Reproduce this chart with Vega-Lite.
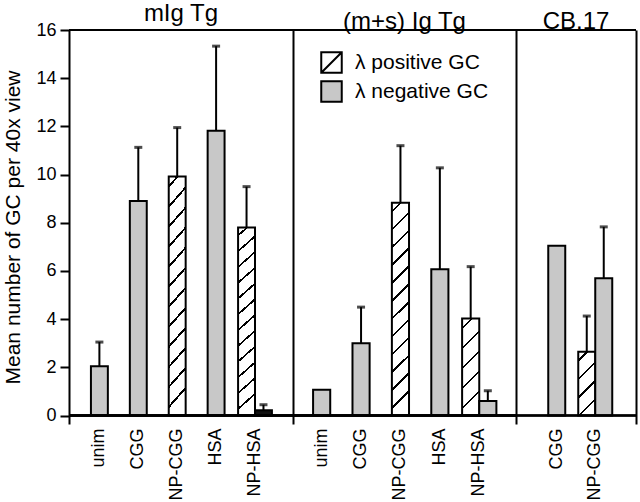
{
  "$schema": "https://vega.github.io/schema/vega-lite/v6.json",
  "padding": {"left": 2, "top": 2, "right": 3, "bottom": 0},
  "background": "white",
  "data": {"values": [
    {"group": "mIg Tg", "cat": "unim", "type": "λ negative GC", "value": 2.05, "upper": 3.05},
    {"group": "mIg Tg", "cat": "CGG", "type": "λ negative GC", "value": 8.9, "upper": 11.13},
    {"group": "mIg Tg", "cat": "NP-CGG", "type": "λ positive GC", "value": 9.92, "upper": 11.95},
    {"group": "mIg Tg", "cat": "HSA", "type": "λ negative GC", "value": 11.82, "upper": 15.33},
    {"group": "mIg Tg", "cat": "NP-HSA", "type": "λ positive GC", "value": 7.8, "upper": 9.5},
    {"group": "mIg Tg", "cat": "NP-HSA", "type": "λ negative GC", "value": 0.22, "upper": 0.45},
    {"group": "(m+s) Ig Tg", "cat": "unim", "type": "λ negative GC", "value": 1.07, "upper": null},
    {"group": "(m+s) Ig Tg", "cat": "CGG", "type": "λ negative GC", "value": 3.0, "upper": 4.5},
    {"group": "(m+s) Ig Tg", "cat": "NP-CGG", "type": "λ positive GC", "value": 8.83, "upper": 11.2},
    {"group": "(m+s) Ig Tg", "cat": "HSA", "type": "λ negative GC", "value": 6.07, "upper": 10.28},
    {"group": "(m+s) Ig Tg", "cat": "NP-HSA", "type": "λ positive GC", "value": 4.03, "upper": 6.18},
    {"group": "(m+s) Ig Tg", "cat": "NP-HSA", "type": "λ negative GC", "value": 0.6, "upper": 1.03},
    {"group": "CB.17", "cat": "CGG", "type": "λ negative GC", "value": 7.05, "upper": null},
    {"group": "CB.17", "cat": "NP-CGG", "type": "λ positive GC", "value": 2.65, "upper": 4.13},
    {"group": "CB.17", "cat": "NP-CGG", "type": "λ negative GC", "value": 5.7, "upper": 7.83}
  ]},
  "spacing": 0,
  "bounds": "flush",
  "resolve": {"scale": {"x": "independent", "xOffset": "independent", "fill": "independent"}},
  "hconcat": [
    {
      "width": 224, "height": 394,
      "title": "mIg Tg",
      "transform": [{"filter": "datum.group === 'mIg Tg'"}, {"joinaggregate": [{"op": "count", "as": "n"}], "groupby": ["cat"]}],
      "layer": [
        {"mark": {"type": "rule", "strokeWidth": 2, "color": "black"},
         "encoding": {"y": {"datum": 16, "type": "quantitative", "scale": {"domain": [-0.35, 16], "nice": false, "zero": false}, "axis": {"values": [0,2,4,6,8,10,12,14,16], "title": "Mean number of GC per 40x view", "titleFontSize": 21, "titleFontWeight": "normal", "titlePadding": 12, "labelFontSize": 18, "labelPadding": 4, "tickSize": 9, "tickWidth": 2, "domainWidth": 2}}}},
        {"transform": [{"filter": "datum.n == 1"}],
         "mark": {"type": "bar", "width": {"band": 0.5}, "stroke": "black", "strokeWidth": 2},
         "encoding": {
           "x": {"field": "cat", "type": "nominal", "sort": ["unim","CGG","NP-CGG","HSA","NP-HSA"], "scale": {"paddingInner": 0.13, "paddingOuter": 0.444, "align": 0.39}, "axis": {"title": null, "labelAngle": -90, "labelAlign": "right", "labelBaseline": "middle", "labelFontSize": 18, "labelPadding": 4, "ticks": false, "domain": false}},
           "y": {"field": "value", "type": "quantitative", "scale": {"domain": [-0.35, 16], "nice": false, "zero": false}, "axis": {"values": [0,2,4,6,8,10,12,14,16], "title": "Mean number of GC per 40x view", "titleFontSize": 21, "titleFontWeight": "normal", "titlePadding": 12, "labelFontSize": 18, "labelPadding": 4, "tickSize": 9, "tickWidth": 2, "domainWidth": 2}},
           "fill": {"condition": {"test": "datum.type === 'λ positive GC'", "value": {"gradient": "linear", "x1": 0, "y1": 0, "x2": 0.08, "y2": 1, "stops": [
               {"offset": 0, "color": "white"},
               {"offset": 0.0357, "color": "white"}, {"offset": 0.0357, "color": "black"}, {"offset": 0.0477, "color": "black"}, {"offset": 0.0477, "color": "white"},
               {"offset": 0.119, "color": "white"}, {"offset": 0.119, "color": "black"}, {"offset": 0.131, "color": "black"}, {"offset": 0.131, "color": "white"},
               {"offset": 0.2023, "color": "white"}, {"offset": 0.2023, "color": "black"}, {"offset": 0.2143, "color": "black"}, {"offset": 0.2143, "color": "white"},
               {"offset": 0.2857, "color": "white"}, {"offset": 0.2857, "color": "black"}, {"offset": 0.2977, "color": "black"}, {"offset": 0.2977, "color": "white"},
               {"offset": 0.369, "color": "white"}, {"offset": 0.369, "color": "black"}, {"offset": 0.381, "color": "black"}, {"offset": 0.381, "color": "white"},
               {"offset": 0.4523, "color": "white"}, {"offset": 0.4523, "color": "black"}, {"offset": 0.4643, "color": "black"}, {"offset": 0.4643, "color": "white"},
               {"offset": 0.5357, "color": "white"}, {"offset": 0.5357, "color": "black"}, {"offset": 0.5477, "color": "black"}, {"offset": 0.5477, "color": "white"},
               {"offset": 0.619, "color": "white"}, {"offset": 0.619, "color": "black"}, {"offset": 0.631, "color": "black"}, {"offset": 0.631, "color": "white"},
               {"offset": 0.7023, "color": "white"}, {"offset": 0.7023, "color": "black"}, {"offset": 0.7143, "color": "black"}, {"offset": 0.7143, "color": "white"},
               {"offset": 0.7857, "color": "white"}, {"offset": 0.7857, "color": "black"}, {"offset": 0.7977, "color": "black"}, {"offset": 0.7977, "color": "white"},
               {"offset": 0.869, "color": "white"}, {"offset": 0.869, "color": "black"}, {"offset": 0.881, "color": "black"}, {"offset": 0.881, "color": "white"},
               {"offset": 0.9523, "color": "white"}, {"offset": 0.9523, "color": "black"}, {"offset": 0.9643, "color": "black"}, {"offset": 0.9643, "color": "white"},
               {"offset": 1, "color": "white"}]}},
             "field": "type", "type": "nominal", "legend": null, "scale": {"domain": ["λ positive GC", "λ negative GC"], "range": ["white", "#c8c8c8"]}}
         }},
        {"transform": [{"filter": "datum.n == 2"}],
         "mark": {"type": "bar", "stroke": "black", "strokeWidth": 2},
         "encoding": {
           "x": {"field": "cat", "type": "nominal", "sort": ["unim","CGG","NP-CGG","HSA","NP-HSA"], "scale": {"paddingInner": 0.13, "paddingOuter": 0.444, "align": 0.39}, "axis": {"title": null, "labelAngle": -90, "labelAlign": "right", "labelBaseline": "middle", "labelFontSize": 18, "labelPadding": 4, "ticks": false, "domain": false}},
           "xOffset": {"field": "type", "type": "nominal", "scale": {"domain": ["λ positive GC", "λ negative GC"], "paddingInner": 0, "paddingOuter": 0}},
           "y": {"field": "value", "type": "quantitative", "scale": {"domain": [-0.35, 16], "nice": false, "zero": false}, "axis": {"values": [0,2,4,6,8,10,12,14,16], "title": "Mean number of GC per 40x view", "titleFontSize": 21, "titleFontWeight": "normal", "titlePadding": 12, "labelFontSize": 18, "labelPadding": 4, "tickSize": 9, "tickWidth": 2, "domainWidth": 2}},
           "fill": {"condition": [
             {"test": "datum.cat === 'NP-HSA' && datum.type === 'λ negative GC'", "value": "#111111"},
             {"test": "datum.type === 'λ positive GC' && datum.value > 6", "value": {"gradient": "linear", "x1": 0, "y1": 0, "x2": 0.08, "y2": 1, "stops": [
               {"offset": 0, "color": "white"},
               {"offset": 0.0357, "color": "white"}, {"offset": 0.0357, "color": "black"}, {"offset": 0.0477, "color": "black"}, {"offset": 0.0477, "color": "white"},
               {"offset": 0.119, "color": "white"}, {"offset": 0.119, "color": "black"}, {"offset": 0.131, "color": "black"}, {"offset": 0.131, "color": "white"},
               {"offset": 0.2023, "color": "white"}, {"offset": 0.2023, "color": "black"}, {"offset": 0.2143, "color": "black"}, {"offset": 0.2143, "color": "white"},
               {"offset": 0.2857, "color": "white"}, {"offset": 0.2857, "color": "black"}, {"offset": 0.2977, "color": "black"}, {"offset": 0.2977, "color": "white"},
               {"offset": 0.369, "color": "white"}, {"offset": 0.369, "color": "black"}, {"offset": 0.381, "color": "black"}, {"offset": 0.381, "color": "white"},
               {"offset": 0.4523, "color": "white"}, {"offset": 0.4523, "color": "black"}, {"offset": 0.4643, "color": "black"}, {"offset": 0.4643, "color": "white"},
               {"offset": 0.5357, "color": "white"}, {"offset": 0.5357, "color": "black"}, {"offset": 0.5477, "color": "black"}, {"offset": 0.5477, "color": "white"},
               {"offset": 0.619, "color": "white"}, {"offset": 0.619, "color": "black"}, {"offset": 0.631, "color": "black"}, {"offset": 0.631, "color": "white"},
               {"offset": 0.7023, "color": "white"}, {"offset": 0.7023, "color": "black"}, {"offset": 0.7143, "color": "black"}, {"offset": 0.7143, "color": "white"},
               {"offset": 0.7857, "color": "white"}, {"offset": 0.7857, "color": "black"}, {"offset": 0.7977, "color": "black"}, {"offset": 0.7977, "color": "white"},
               {"offset": 0.869, "color": "white"}, {"offset": 0.869, "color": "black"}, {"offset": 0.881, "color": "black"}, {"offset": 0.881, "color": "white"},
               {"offset": 0.9523, "color": "white"}, {"offset": 0.9523, "color": "black"}, {"offset": 0.9643, "color": "black"}, {"offset": 0.9643, "color": "white"},
               {"offset": 1, "color": "white"}]}}],
             "field": "type", "type": "nominal", "legend": null}
         }},
        {"transform": [{"filter": "datum.n == 1 && datum.upper != null"}],
         "mark": {"type": "rule", "strokeWidth": 2, "color": "black"},
         "encoding": {
           "x": {"field": "cat", "type": "nominal", "sort": ["unim","CGG","NP-CGG","HSA","NP-HSA"], "scale": {"paddingInner": 0.13, "paddingOuter": 0.444, "align": 0.39}, "axis": {"title": null, "labelAngle": -90, "labelAlign": "right", "labelBaseline": "middle", "labelFontSize": 18, "labelPadding": 4, "ticks": false, "domain": false}},
           "y": {"field": "value", "type": "quantitative", "scale": {"domain": [-0.35, 16], "nice": false, "zero": false}, "axis": {"values": [0,2,4,6,8,10,12,14,16], "title": "Mean number of GC per 40x view", "titleFontSize": 21, "titleFontWeight": "normal", "titlePadding": 12, "labelFontSize": 18, "labelPadding": 4, "tickSize": 9, "tickWidth": 2, "domainWidth": 2}},
           "y2": {"field": "upper"}
         }},
        {"transform": [{"filter": "datum.n == 1 && datum.upper != null"}],
         "mark": {"type": "tick", "size": 8, "thickness": 3, "color": "black"},
         "encoding": {
           "x": {"field": "cat", "type": "nominal", "sort": ["unim","CGG","NP-CGG","HSA","NP-HSA"], "scale": {"paddingInner": 0.13, "paddingOuter": 0.444, "align": 0.39}, "axis": {"title": null, "labelAngle": -90, "labelAlign": "right", "labelBaseline": "middle", "labelFontSize": 18, "labelPadding": 4, "ticks": false, "domain": false}},
           "y": {"field": "upper", "type": "quantitative", "scale": {"domain": [-0.35, 16], "nice": false, "zero": false}, "axis": {"values": [0,2,4,6,8,10,12,14,16], "title": "Mean number of GC per 40x view", "titleFontSize": 21, "titleFontWeight": "normal", "titlePadding": 12, "labelFontSize": 18, "labelPadding": 4, "tickSize": 9, "tickWidth": 2, "domainWidth": 2}}
         }},
        {"transform": [{"filter": "datum.n == 2 && datum.upper != null"}],
         "mark": {"type": "rule", "strokeWidth": 2, "color": "black"},
         "encoding": {
           "x": {"field": "cat", "type": "nominal", "sort": ["unim","CGG","NP-CGG","HSA","NP-HSA"], "scale": {"paddingInner": 0.13, "paddingOuter": 0.444, "align": 0.39}, "axis": {"title": null, "labelAngle": -90, "labelAlign": "right", "labelBaseline": "middle", "labelFontSize": 18, "labelPadding": 4, "ticks": false, "domain": false}},
           "xOffset": {"field": "type", "type": "nominal", "scale": {"domain": ["λ positive GC", "λ negative GC"], "paddingInner": 0, "paddingOuter": 0}},
           "y": {"field": "value", "type": "quantitative", "scale": {"domain": [-0.35, 16], "nice": false, "zero": false}, "axis": {"values": [0,2,4,6,8,10,12,14,16], "title": "Mean number of GC per 40x view", "titleFontSize": 21, "titleFontWeight": "normal", "titlePadding": 12, "labelFontSize": 18, "labelPadding": 4, "tickSize": 9, "tickWidth": 2, "domainWidth": 2}},
           "y2": {"field": "upper"}
         }},
        {"transform": [{"filter": "datum.n == 2 && datum.upper != null"}],
         "mark": {"type": "tick", "size": 8, "thickness": 3, "color": "black"},
         "encoding": {
           "x": {"field": "cat", "type": "nominal", "sort": ["unim","CGG","NP-CGG","HSA","NP-HSA"], "scale": {"paddingInner": 0.13, "paddingOuter": 0.444, "align": 0.39}, "axis": {"title": null, "labelAngle": -90, "labelAlign": "right", "labelBaseline": "middle", "labelFontSize": 18, "labelPadding": 4, "ticks": false, "domain": false}},
           "xOffset": {"field": "type", "type": "nominal", "scale": {"domain": ["λ positive GC", "λ negative GC"], "paddingInner": 0, "paddingOuter": 0}},
           "y": {"field": "upper", "type": "quantitative", "scale": {"domain": [-0.35, 16], "nice": false, "zero": false}, "axis": {"values": [0,2,4,6,8,10,12,14,16], "title": "Mean number of GC per 40x view", "titleFontSize": 21, "titleFontWeight": "normal", "titlePadding": 12, "labelFontSize": 18, "labelPadding": 4, "tickSize": 9, "tickWidth": 2, "domainWidth": 2}}
         }},
        {"mark": {"type": "rule", "strokeWidth": 2, "color": "black"},
         "encoding": {"y": {"datum": 0, "type": "quantitative", "scale": {"domain": [-0.35, 16], "nice": false, "zero": false}, "axis": {"values": [0,2,4,6,8,10,12,14,16], "title": "Mean number of GC per 40x view", "titleFontSize": 21, "titleFontWeight": "normal", "titlePadding": 12, "labelFontSize": 18, "labelPadding": 4, "tickSize": 9, "tickWidth": 2, "domainWidth": 2}}}}
      ]
    },
    {
      "width": 223, "height": 394,
      "title": "(m+s) Ig Tg",
      "transform": [{"filter": "datum.group === '(m+s) Ig Tg'"}, {"joinaggregate": [{"op": "count", "as": "n"}], "groupby": ["cat"]}],
      "layer": [
        {"mark": {"type": "rule", "strokeWidth": 2, "color": "black"},
         "encoding": {"y": {"datum": 16, "type": "quantitative", "scale": {"domain": [-0.35, 16], "nice": false, "zero": false}, "axis": {"labels": false, "ticks": false, "title": null, "domainWidth": 2}}}},
        {"transform": [{"filter": "datum.n == 1"}],
         "mark": {"type": "bar", "width": {"band": 0.5}, "stroke": "black", "strokeWidth": 2},
         "encoding": {
           "x": {"field": "cat", "type": "nominal", "sort": ["unim","CGG","NP-CGG","HSA","NP-HSA"], "scale": {"paddingInner": 0.13, "paddingOuter": 0.395, "align": 0.37}, "axis": {"title": null, "labelAngle": -90, "labelAlign": "right", "labelBaseline": "middle", "labelFontSize": 18, "labelPadding": 4, "ticks": false, "domain": false}},
           "y": {"field": "value", "type": "quantitative", "scale": {"domain": [-0.35, 16], "nice": false, "zero": false}, "axis": {"labels": false, "ticks": false, "title": null, "domainWidth": 2}},
           "fill": {"condition": {"test": "datum.type === 'λ positive GC'", "value": {"gradient": "linear", "x1": 0, "y1": 0, "x2": 0.08, "y2": 1, "stops": [
               {"offset": 0, "color": "white"},
               {"offset": 0.0357, "color": "white"}, {"offset": 0.0357, "color": "black"}, {"offset": 0.0477, "color": "black"}, {"offset": 0.0477, "color": "white"},
               {"offset": 0.119, "color": "white"}, {"offset": 0.119, "color": "black"}, {"offset": 0.131, "color": "black"}, {"offset": 0.131, "color": "white"},
               {"offset": 0.2023, "color": "white"}, {"offset": 0.2023, "color": "black"}, {"offset": 0.2143, "color": "black"}, {"offset": 0.2143, "color": "white"},
               {"offset": 0.2857, "color": "white"}, {"offset": 0.2857, "color": "black"}, {"offset": 0.2977, "color": "black"}, {"offset": 0.2977, "color": "white"},
               {"offset": 0.369, "color": "white"}, {"offset": 0.369, "color": "black"}, {"offset": 0.381, "color": "black"}, {"offset": 0.381, "color": "white"},
               {"offset": 0.4523, "color": "white"}, {"offset": 0.4523, "color": "black"}, {"offset": 0.4643, "color": "black"}, {"offset": 0.4643, "color": "white"},
               {"offset": 0.5357, "color": "white"}, {"offset": 0.5357, "color": "black"}, {"offset": 0.5477, "color": "black"}, {"offset": 0.5477, "color": "white"},
               {"offset": 0.619, "color": "white"}, {"offset": 0.619, "color": "black"}, {"offset": 0.631, "color": "black"}, {"offset": 0.631, "color": "white"},
               {"offset": 0.7023, "color": "white"}, {"offset": 0.7023, "color": "black"}, {"offset": 0.7143, "color": "black"}, {"offset": 0.7143, "color": "white"},
               {"offset": 0.7857, "color": "white"}, {"offset": 0.7857, "color": "black"}, {"offset": 0.7977, "color": "black"}, {"offset": 0.7977, "color": "white"},
               {"offset": 0.869, "color": "white"}, {"offset": 0.869, "color": "black"}, {"offset": 0.881, "color": "black"}, {"offset": 0.881, "color": "white"},
               {"offset": 0.9523, "color": "white"}, {"offset": 0.9523, "color": "black"}, {"offset": 0.9643, "color": "black"}, {"offset": 0.9643, "color": "white"},
               {"offset": 1, "color": "white"}]}},
             "field": "type", "type": "nominal",
             "scale": {"domain": ["λ positive GC", "λ negative GC"], "range": ["white", "#c8c8c8"]},
             "legend": {"orient": "top-left", "offset": 21, "title": null, "symbolType": "square", "symbolSize": 420, "symbolOffset": 6, "symbolStrokeColor": "black", "symbolStrokeWidth": 2, "labelFontSize": 21, "labelOffset": 12, "rowPadding": 0, "padding": 0,
               "encode": {"symbols": {"update": {"stroke": {"value": "black"}, "strokeWidth": {"value": 2},
                 "shape": [{"test": "datum.value === 'λ positive GC'", "value": "M-1,-1H1V1H-1ZM-1,1L1,-1"}, {"value": "square"}],
                 "fill": [{"test": "datum.value === 'λ positive GC'", "value": "white"}, {"value": "#c8c8c8"}]}}}}}
         }},
        {"transform": [{"filter": "datum.n == 2"}],
         "mark": {"type": "bar", "stroke": "black", "strokeWidth": 2},
         "encoding": {
           "x": {"field": "cat", "type": "nominal", "sort": ["unim","CGG","NP-CGG","HSA","NP-HSA"], "scale": {"paddingInner": 0.13, "paddingOuter": 0.395, "align": 0.37}, "axis": {"title": null, "labelAngle": -90, "labelAlign": "right", "labelBaseline": "middle", "labelFontSize": 18, "labelPadding": 4, "ticks": false, "domain": false}},
           "xOffset": {"field": "type", "type": "nominal", "scale": {"domain": ["λ positive GC", "λ negative GC"], "paddingInner": 0, "paddingOuter": 0}},
           "y": {"field": "value", "type": "quantitative", "scale": {"domain": [-0.35, 16], "nice": false, "zero": false}, "axis": {"labels": false, "ticks": false, "title": null, "domainWidth": 2}},
           "fill": {"condition": [
             {"test": "datum.type === 'λ positive GC' && datum.value > 6", "value": {"gradient": "linear", "x1": 0, "y1": 0, "x2": 0.08, "y2": 1, "stops": [
               {"offset": 0, "color": "white"},
               {"offset": 0.0357, "color": "white"}, {"offset": 0.0357, "color": "black"}, {"offset": 0.0477, "color": "black"}, {"offset": 0.0477, "color": "white"},
               {"offset": 0.119, "color": "white"}, {"offset": 0.119, "color": "black"}, {"offset": 0.131, "color": "black"}, {"offset": 0.131, "color": "white"},
               {"offset": 0.2023, "color": "white"}, {"offset": 0.2023, "color": "black"}, {"offset": 0.2143, "color": "black"}, {"offset": 0.2143, "color": "white"},
               {"offset": 0.2857, "color": "white"}, {"offset": 0.2857, "color": "black"}, {"offset": 0.2977, "color": "black"}, {"offset": 0.2977, "color": "white"},
               {"offset": 0.369, "color": "white"}, {"offset": 0.369, "color": "black"}, {"offset": 0.381, "color": "black"}, {"offset": 0.381, "color": "white"},
               {"offset": 0.4523, "color": "white"}, {"offset": 0.4523, "color": "black"}, {"offset": 0.4643, "color": "black"}, {"offset": 0.4643, "color": "white"},
               {"offset": 0.5357, "color": "white"}, {"offset": 0.5357, "color": "black"}, {"offset": 0.5477, "color": "black"}, {"offset": 0.5477, "color": "white"},
               {"offset": 0.619, "color": "white"}, {"offset": 0.619, "color": "black"}, {"offset": 0.631, "color": "black"}, {"offset": 0.631, "color": "white"},
               {"offset": 0.7023, "color": "white"}, {"offset": 0.7023, "color": "black"}, {"offset": 0.7143, "color": "black"}, {"offset": 0.7143, "color": "white"},
               {"offset": 0.7857, "color": "white"}, {"offset": 0.7857, "color": "black"}, {"offset": 0.7977, "color": "black"}, {"offset": 0.7977, "color": "white"},
               {"offset": 0.869, "color": "white"}, {"offset": 0.869, "color": "black"}, {"offset": 0.881, "color": "black"}, {"offset": 0.881, "color": "white"},
               {"offset": 0.9523, "color": "white"}, {"offset": 0.9523, "color": "black"}, {"offset": 0.9643, "color": "black"}, {"offset": 0.9643, "color": "white"},
               {"offset": 1, "color": "white"}]}},
             {"test": "datum.type === 'λ positive GC' && datum.value > 3.5", "value": {"gradient": "linear", "x1": 0, "y1": 0, "x2": 0.175, "y2": 1, "stops": [
               {"offset": 0, "color": "white"},
               {"offset": 0.088, "color": "white"}, {"offset": 0.088, "color": "black"}, {"offset": 0.112, "color": "black"}, {"offset": 0.112, "color": "white"},
               {"offset": 0.288, "color": "white"}, {"offset": 0.288, "color": "black"}, {"offset": 0.312, "color": "black"}, {"offset": 0.312, "color": "white"},
               {"offset": 0.488, "color": "white"}, {"offset": 0.488, "color": "black"}, {"offset": 0.512, "color": "black"}, {"offset": 0.512, "color": "white"},
               {"offset": 0.688, "color": "white"}, {"offset": 0.688, "color": "black"}, {"offset": 0.712, "color": "black"}, {"offset": 0.712, "color": "white"},
               {"offset": 0.888, "color": "white"}, {"offset": 0.888, "color": "black"}, {"offset": 0.912, "color": "black"}, {"offset": 0.912, "color": "white"},
               {"offset": 1, "color": "white"}]}}],
             "field": "type", "type": "nominal",
             "legend": {"orient": "top-left", "offset": 21, "title": null, "symbolType": "square", "symbolSize": 420, "symbolOffset": 6, "symbolStrokeColor": "black", "symbolStrokeWidth": 2, "labelFontSize": 21, "labelOffset": 12, "rowPadding": 0, "padding": 0,
               "encode": {"symbols": {"update": {"stroke": {"value": "black"}, "strokeWidth": {"value": 2},
                 "shape": [{"test": "datum.value === 'λ positive GC'", "value": "M-1,-1H1V1H-1ZM-1,1L1,-1"}, {"value": "square"}],
                 "fill": [{"test": "datum.value === 'λ positive GC'", "value": "white"}, {"value": "#c8c8c8"}]}}}}}
         }},
        {"transform": [{"filter": "datum.n == 1 && datum.upper != null"}],
         "mark": {"type": "rule", "strokeWidth": 2, "color": "black"},
         "encoding": {
           "x": {"field": "cat", "type": "nominal", "sort": ["unim","CGG","NP-CGG","HSA","NP-HSA"], "scale": {"paddingInner": 0.13, "paddingOuter": 0.395, "align": 0.37}, "axis": {"title": null, "labelAngle": -90, "labelAlign": "right", "labelBaseline": "middle", "labelFontSize": 18, "labelPadding": 4, "ticks": false, "domain": false}},
           "y": {"field": "value", "type": "quantitative", "scale": {"domain": [-0.35, 16], "nice": false, "zero": false}, "axis": {"labels": false, "ticks": false, "title": null, "domainWidth": 2}},
           "y2": {"field": "upper"}
         }},
        {"transform": [{"filter": "datum.n == 1 && datum.upper != null"}],
         "mark": {"type": "tick", "size": 8, "thickness": 3, "color": "black"},
         "encoding": {
           "x": {"field": "cat", "type": "nominal", "sort": ["unim","CGG","NP-CGG","HSA","NP-HSA"], "scale": {"paddingInner": 0.13, "paddingOuter": 0.395, "align": 0.37}, "axis": {"title": null, "labelAngle": -90, "labelAlign": "right", "labelBaseline": "middle", "labelFontSize": 18, "labelPadding": 4, "ticks": false, "domain": false}},
           "y": {"field": "upper", "type": "quantitative", "scale": {"domain": [-0.35, 16], "nice": false, "zero": false}, "axis": {"labels": false, "ticks": false, "title": null, "domainWidth": 2}}
         }},
        {"transform": [{"filter": "datum.n == 2 && datum.upper != null"}],
         "mark": {"type": "rule", "strokeWidth": 2, "color": "black"},
         "encoding": {
           "x": {"field": "cat", "type": "nominal", "sort": ["unim","CGG","NP-CGG","HSA","NP-HSA"], "scale": {"paddingInner": 0.13, "paddingOuter": 0.395, "align": 0.37}, "axis": {"title": null, "labelAngle": -90, "labelAlign": "right", "labelBaseline": "middle", "labelFontSize": 18, "labelPadding": 4, "ticks": false, "domain": false}},
           "xOffset": {"field": "type", "type": "nominal", "scale": {"domain": ["λ positive GC", "λ negative GC"], "paddingInner": 0, "paddingOuter": 0}},
           "y": {"field": "value", "type": "quantitative", "scale": {"domain": [-0.35, 16], "nice": false, "zero": false}, "axis": {"labels": false, "ticks": false, "title": null, "domainWidth": 2}},
           "y2": {"field": "upper"}
         }},
        {"transform": [{"filter": "datum.n == 2 && datum.upper != null"}],
         "mark": {"type": "tick", "size": 8, "thickness": 3, "color": "black"},
         "encoding": {
           "x": {"field": "cat", "type": "nominal", "sort": ["unim","CGG","NP-CGG","HSA","NP-HSA"], "scale": {"paddingInner": 0.13, "paddingOuter": 0.395, "align": 0.37}, "axis": {"title": null, "labelAngle": -90, "labelAlign": "right", "labelBaseline": "middle", "labelFontSize": 18, "labelPadding": 4, "ticks": false, "domain": false}},
           "xOffset": {"field": "type", "type": "nominal", "scale": {"domain": ["λ positive GC", "λ negative GC"], "paddingInner": 0, "paddingOuter": 0}},
           "y": {"field": "upper", "type": "quantitative", "scale": {"domain": [-0.35, 16], "nice": false, "zero": false}, "axis": {"labels": false, "ticks": false, "title": null, "domainWidth": 2}}
         }},
        {"mark": {"type": "rule", "strokeWidth": 2, "color": "black"},
         "encoding": {"y": {"datum": 0, "type": "quantitative", "scale": {"domain": [-0.35, 16], "nice": false, "zero": false}, "axis": {"labels": false, "ticks": false, "title": null, "domainWidth": 2}}}}
      ]
    },
    {
      "width": 120, "height": 394,
      "title": "CB.17",
      "transform": [{"filter": "datum.group === 'CB.17'"}, {"joinaggregate": [{"op": "count", "as": "n"}], "groupby": ["cat"]}],
      "resolve": {"axis": {"y": "independent"}},
      "layer": [
        {"mark": {"type": "rule", "strokeWidth": 2, "color": "black"},
         "encoding": {"y": {"datum": 16, "type": "quantitative", "scale": {"domain": [-0.35, 16], "nice": false, "zero": false}, "axis": {"orient": "right", "labels": false, "ticks": false, "title": null, "domainWidth": 2}}}},
        {"transform": [{"filter": "datum.n == 1"}],
         "mark": {"type": "bar", "width": {"band": 0.5}, "stroke": "black", "strokeWidth": 2},
         "encoding": {
           "x": {"field": "cat", "type": "nominal", "sort": ["CGG","NP-CGG"], "scale": {"paddingInner": 0.117, "paddingOuter": 0.617, "align": 0.5}, "axis": {"title": null, "labelAngle": -90, "labelAlign": "right", "labelBaseline": "middle", "labelFontSize": 18, "labelPadding": 4, "ticks": false, "domain": false}},
           "y": {"field": "value", "type": "quantitative", "scale": {"domain": [-0.35, 16], "nice": false, "zero": false}, "axis": {"orient": "left", "labels": false, "ticks": false, "title": null, "domainWidth": 2}},
           "fill": {"field": "type", "type": "nominal", "legend": null, "scale": {"domain": ["λ positive GC", "λ negative GC"], "range": ["white", "#c8c8c8"]}}
         }},
        {"transform": [{"filter": "datum.n == 2"}],
         "mark": {"type": "bar", "stroke": "black", "strokeWidth": 2},
         "encoding": {
           "x": {"field": "cat", "type": "nominal", "sort": ["CGG","NP-CGG"], "scale": {"paddingInner": 0.117, "paddingOuter": 0.617, "align": 0.5}, "axis": {"title": null, "labelAngle": -90, "labelAlign": "right", "labelBaseline": "middle", "labelFontSize": 18, "labelPadding": 4, "ticks": false, "domain": false}},
           "xOffset": {"field": "type", "type": "nominal", "scale": {"domain": ["λ positive GC", "λ negative GC"], "paddingInner": 0, "paddingOuter": 0}},
           "y": {"field": "value", "type": "quantitative", "scale": {"domain": [-0.35, 16], "nice": false, "zero": false}, "axis": null},
           "fill": {"condition": [
             {"test": "datum.type === 'λ positive GC' && datum.value > 3.5", "value": {"gradient": "linear", "x1": 0, "y1": 0, "x2": 0.175, "y2": 1, "stops": [
               {"offset": 0, "color": "white"},
               {"offset": 0.088, "color": "white"}, {"offset": 0.088, "color": "black"}, {"offset": 0.112, "color": "black"}, {"offset": 0.112, "color": "white"},
               {"offset": 0.288, "color": "white"}, {"offset": 0.288, "color": "black"}, {"offset": 0.312, "color": "black"}, {"offset": 0.312, "color": "white"},
               {"offset": 0.488, "color": "white"}, {"offset": 0.488, "color": "black"}, {"offset": 0.512, "color": "black"}, {"offset": 0.512, "color": "white"},
               {"offset": 0.688, "color": "white"}, {"offset": 0.688, "color": "black"}, {"offset": 0.712, "color": "black"}, {"offset": 0.712, "color": "white"},
               {"offset": 0.888, "color": "white"}, {"offset": 0.888, "color": "black"}, {"offset": 0.912, "color": "black"}, {"offset": 0.912, "color": "white"},
               {"offset": 1, "color": "white"}]}},
             {"test": "datum.type === 'λ positive GC'", "value": {"gradient": "linear", "x1": 0, "y1": 0, "x2": 0.27, "y2": 1, "stops": [
               {"offset": 0, "color": "white"},
               {"offset": 0.117, "color": "white"}, {"offset": 0.117, "color": "black"}, {"offset": 0.153, "color": "black"}, {"offset": 0.153, "color": "white"},
               {"offset": 0.387, "color": "white"}, {"offset": 0.387, "color": "black"}, {"offset": 0.423, "color": "black"}, {"offset": 0.423, "color": "white"},
               {"offset": 0.657, "color": "white"}, {"offset": 0.657, "color": "black"}, {"offset": 0.693, "color": "black"}, {"offset": 0.693, "color": "white"},
               {"offset": 0.927, "color": "white"}, {"offset": 0.927, "color": "black"}, {"offset": 0.963, "color": "black"}, {"offset": 0.963, "color": "white"},
               {"offset": 1, "color": "white"}]}}],
             "field": "type", "type": "nominal", "legend": null}
         }},
        {"transform": [{"filter": "datum.n == 2 && datum.upper != null"}],
         "mark": {"type": "rule", "strokeWidth": 2, "color": "black"},
         "encoding": {
           "x": {"field": "cat", "type": "nominal", "sort": ["CGG","NP-CGG"], "scale": {"paddingInner": 0.117, "paddingOuter": 0.617, "align": 0.5}, "axis": {"title": null, "labelAngle": -90, "labelAlign": "right", "labelBaseline": "middle", "labelFontSize": 18, "labelPadding": 4, "ticks": false, "domain": false}},
           "xOffset": {"field": "type", "type": "nominal", "scale": {"domain": ["λ positive GC", "λ negative GC"], "paddingInner": 0, "paddingOuter": 0}},
           "y": {"field": "value", "type": "quantitative", "scale": {"domain": [-0.35, 16], "nice": false, "zero": false}, "axis": null},
           "y2": {"field": "upper"}
         }},
        {"transform": [{"filter": "datum.n == 2 && datum.upper != null"}],
         "mark": {"type": "tick", "size": 8, "thickness": 3, "color": "black"},
         "encoding": {
           "x": {"field": "cat", "type": "nominal", "sort": ["CGG","NP-CGG"], "scale": {"paddingInner": 0.117, "paddingOuter": 0.617, "align": 0.5}, "axis": {"title": null, "labelAngle": -90, "labelAlign": "right", "labelBaseline": "middle", "labelFontSize": 18, "labelPadding": 4, "ticks": false, "domain": false}},
           "xOffset": {"field": "type", "type": "nominal", "scale": {"domain": ["λ positive GC", "λ negative GC"], "paddingInner": 0, "paddingOuter": 0}},
           "y": {"field": "upper", "type": "quantitative", "scale": {"domain": [-0.35, 16], "nice": false, "zero": false}, "axis": null}
         }},
        {"mark": {"type": "rule", "strokeWidth": 2, "color": "black"},
         "encoding": {"y": {"datum": 0, "type": "quantitative", "scale": {"domain": [-0.35, 16], "nice": false, "zero": false}, "axis": null}}}
      ]
    }
  ],
  "config": {
    "font": "Liberation Sans",
    "view": {"stroke": null},
    "axis": {"grid": false, "labelFont": "Liberation Sans", "titleFont": "Liberation Sans", "labelColor": "black", "titleColor": "black", "domainColor": "black", "tickColor": "black"},
    "legend": {"labelFont": "Liberation Sans", "labelColor": "black"},
    "title": {"font": "Liberation Sans", "fontSize": 24, "fontWeight": "normal", "color": "black", "anchor": "middle", "offset": -5}
  }
}
